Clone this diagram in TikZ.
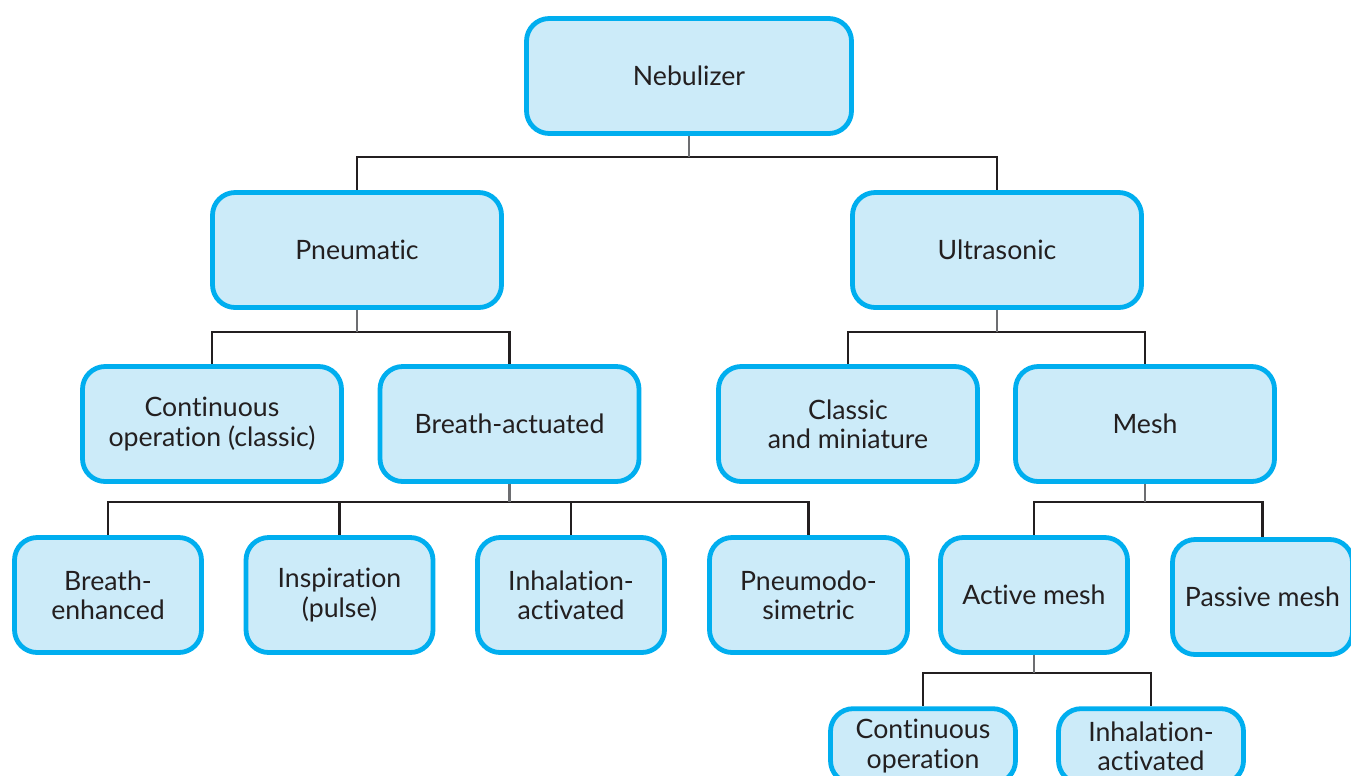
\documentclass[tikz,border=0pt]{standalone}
\usepackage{fontspec}
\setmainfont{Lato}[Ligatures=NoCommon]
\usetikzlibrary{calc}
\definecolor{boxline}{HTML}{00AEEF}
\definecolor{boxfill}{HTML}{CCEBF9}
\definecolor{txtdark}{HTML}{231F20}
\definecolor{stubgray}{HTML}{6D6E71}
% box: name, x, y, width, text
\def\nebbox(#1,#2,#3,#4,#5){
  \node[nbox, minimum width=#4] (#1) at (#2,#3) {#5};
}
% branch: parent, fork level, child
\def\nebbranch(#1,#2,#3){
  \draw[link] (#1.south |- 0,#2) -| (#3.north);
  \draw[stub] (#1.south) -- (#1.south |- 0,#2);
}

\begin{document}
\begin{tikzpicture}[x=0.75pt,y=-0.75pt,
  nbox/.style={draw=boxline, line width=3.6pt, fill=boxfill, rounded corners=17pt,
    minimum height=86.25pt, inner sep=2pt, align=center, text=txtdark,
    font=\fontsize{20}{22}\selectfont},
  link/.style={draw=txtdark, line width=2pt},
  stub/.style={draw=stubgray, line width=2pt}]
\useasboundingbox (0,0) rectangle (1351,775);
\clip (0,0) rectangle (1351,775);
\nebbox(neb,689,76,243.75pt,Nebulizer)
\nebbox(pneu,357,250,216.75pt,Pneumatic)
\nebbox(ultra,997,250,216.75pt,Ultrasonic)
\nebbox(cont,212,424,194.25pt,{Continuous\\operation (classic)})
\nebbox(bact,509.5,424,194.25pt,Breath-actuated)
\nebbox(clas,848,424,194.25pt,{Classic\\and miniature})
\nebbox(mesh,1145,424,194.25pt,Mesh)
\nebbox(benh,108,595,140.25pt,{Breath-\\enhanced})
\nebbox(insp,339.5,595,140.25pt,{Inspiration\\(pulse)})
\nebbox(inha,571,595,140.25pt,{Inhalation-\\activated})
\nebbox(pdos,808.5,595,148.5pt,{Pneumodo-\\simetric})
\nebbox(amesh,1034,595,140.25pt,Active mesh)
\nebbox(pmesh,1262.5,597,135pt,Passive mesh)
\node[nbox, minimum width=138.75pt, minimum height=56pt] (acont) at (923,746) {Continuous\\operation};
\node[nbox, minimum width=138.75pt, minimum height=56pt] (ainha) at (1151,746) {Inhalation-\\activated};
% connectors
\nebbranch(neb,157,pneu)
\nebbranch(neb,157,ultra)
\nebbranch(pneu,332,cont)
\nebbranch(pneu,332,bact)
\nebbranch(ultra,332,clas)
\nebbranch(ultra,332,mesh)
\nebbranch(bact,502,benh)
\nebbranch(bact,502,insp)
\nebbranch(bact,502,inha)
\nebbranch(bact,502,pdos)
\nebbranch(mesh,502,amesh)
\nebbranch(mesh,502,pmesh)
\nebbranch(amesh,673,acont)
\nebbranch(amesh,673,ainha)
\end{tikzpicture}
\end{document}
